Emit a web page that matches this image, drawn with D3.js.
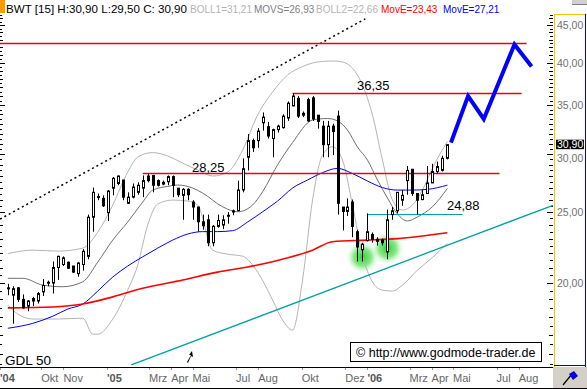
<!DOCTYPE html>
<html lang="de">
<head>
<meta charset="UTF-8" />
<title>BWT</title>
<script src="https://cdn.jsdelivr.net/npm/d3@7"></script>
<style>
  body { margin: 0; background: #fff; }
  svg { display: block; font-family: "Liberation Sans", Arial, sans-serif; }
</style>
</head>
<body>
<svg width="587" height="389"></svg>
<script>
// weekly candles
var weeks = ["2004-08-13","2004-08-20","2004-08-27","2004-09-03","2004-09-10","2004-09-17","2004-09-24","2004-10-01","2004-10-08","2004-10-15",
  "2004-10-22","2004-10-29","2004-11-05","2004-11-12","2004-11-19","2004-11-26","2004-12-03","2004-12-10","2004-12-17","2004-12-24",
  "2004-12-31","2005-01-07","2005-01-14","2005-01-21","2005-01-28","2005-02-04","2005-02-11","2005-02-18","2005-02-25","2005-03-04",
  "2005-03-11","2005-03-18","2005-03-25","2005-04-01","2005-04-08","2005-04-15","2005-04-22","2005-04-29","2005-05-06","2005-05-13",
  "2005-05-20","2005-05-27","2005-06-03","2005-06-10","2005-06-17","2005-06-24","2005-07-01","2005-07-08","2005-07-15","2005-07-22",
  "2005-07-29","2005-08-05","2005-08-12","2005-08-19","2005-08-26","2005-09-02","2005-09-09","2005-09-16","2005-09-23","2005-09-30",
  "2005-10-07","2005-10-14","2005-10-21","2005-10-28","2005-11-04","2005-11-11","2005-11-18","2005-11-25","2005-12-02","2005-12-09",
  "2005-12-16","2005-12-23","2005-12-30","2006-01-06","2006-01-13","2006-01-20","2006-01-27","2006-02-03","2006-02-10","2006-02-17",
  "2006-02-24","2006-03-03","2006-03-10","2006-03-17","2006-03-24","2006-03-31","2006-04-07","2006-04-14","2006-04-21"];
var opens = [19.7,19.25,19.7,19.0,18.6,18.9,18.9,19.45,20.0,20.0, 21.0,21.2,21.35,21.1,20.6,21.2,21.75,24.6,26.2,26.1,
  24.95,26.95,27.35,27.65,25.7,26.2,26.6,26.95,28.0,28.05, 27.6,27.3,27.5,27.95,26.95,26.35,26.85,25.8,25.4,24.25,
  24.4,22.7,23.9,24.0,24.7,25.0,25.1,26.8,29.7,31.3, 31.3,33.1,32.7,31.5,32.4,32.6,33.6,34.9,35.75,33.9,
  35.6,35.8,33.9,32.75,30.9,32.75,33.8,25.4,25.05,25.8, 23.5,22.2,22.85,23.3,22.8,22.9,22.05,24.8,25.1,25.95,
  27.6,28.6,26.5,26.0,26.5,27.4,28.4,28.5,29.6];
var highs = [19.95,19.8,19.75,19.3,18.95,19.15,19.45,20.25,20.15,21.4, 21.8,21.75,21.4,21.1,21.35,22.25,24.8,27.0,26.5,26.35,
  26.8,27.9,28.05,27.65,26.6,27.35,27.45,28.05,28.2,28.1, 27.7,27.6,28.05,28.05,26.95,26.95,26.95,25.95,25.4,24.8,
  24.8,24.0,24.8,24.75,25.0,25.2,27.6,29.6,31.95,31.5, 32.55,34.2,33.2,32.5,32.9,34.0,35.4,36.35,36.0,34.3,
  35.8,36.0,33.9,33.3,33.3,33.0,34.4,25.4,26.1,26.0, 23.65,22.7,24.9,23.45,23.1,23.0,25.2,25.4,26.6,26.8,
  28.9,28.6,26.5,26.8,28.9,29.1,29.3,29.85,30.9];
var lows = [19.25,17.6,18.85,18.45,18.3,18.6,18.75,19.2,19.8,19.35, 20.2,21.1,20.9,20.65,20.4,20.8,21.55,23.5,25.95,25.4,
  24.3,26.35,27.2,25.95,25.65,26.1,26.4,26.2,27.45,26.6, 27.1,27.2,27.2,26.2,26.2,24.4,25.95,24.4,23.5,23.65,
  22.45,22.45,23.8,23.7,24.1,24.75,25.1,26.6,28.5,30.2, 30.6,32.3,31.5,29.7,32.1,32.5,33.3,34.9,33.6,33.7,
  33.2,33.3,32.5,29.7,29.7,29.9,24.8,23.6,24.7,23.1, 21.4,21.4,22.8,22.7,22.5,22.5,21.55,24.4,24.9,25.5,
  26.4,26.3,24.8,25.95,26.5,27.4,28.2,28.4,29.5];
var closes = [19.65,19.65,19.0,18.5,18.9,19.05,19.35,19.85,20.05,21.0, 21.75,21.65,20.95,20.7,21.3,22.1,24.6,26.6,26.25,25.5,
  26.7,27.8,28.0,26.2,26.2,27.05,27.2,27.6,27.6,27.2, 27.2,27.45,27.95,27.2,26.4,26.85,26.4,25.4,24.25,23.95,
  22.7,23.9,24.35,24.4,24.75,25.1,26.8,28.65,31.3,30.6, 32.25,33.7,31.75,32.4,32.75,33.8,35.2,36.0,33.8,34.1,
  33.3,33.5,33.25,30.9,32.75,32.2,25.7,25.05,25.4,23.9, 22.4,22.6,23.5,22.95,22.95,22.7,24.4,25.1,26.6,26.35,
  28.5,26.5,25.95,26.4,27.4,28.4,28.85,29.6,30.9];

// indicator lines [date, value]
var bollUpper = [["2004-08-13",21.94],["2004-09-17",22.18],["2004-10-22",22.11],["2004-11-26",22.32],["2004-12-17",23.47],
  ["2005-01-07",25.56],["2005-01-28",28.35],["2005-02-11",29.72],["2005-03-04",30.14],["2005-03-25",29.82],["2005-04-15",29.16],
  ["2005-05-06",28.53],["2005-05-27",28.0],["2005-06-17",28.35],["2005-07-08",30.38],["2005-07-29",33.92],["2005-08-19",36.46],
  ["2005-09-09",38.46],["2005-09-30",39.5],["2005-10-21",40.07],["2005-11-11",40.2],["2005-11-25",40.07],["2005-12-09",39.3],
  ["2005-12-23",37.27],["2006-01-06",33.92],["2006-01-20",29.44],["2006-02-03",25.96],["2006-02-17",25.16],["2006-03-03",25.56],
  ["2006-03-17",26.79],["2006-03-31",28.7],["2006-04-21",31.21]];
var bollLower = [["2004-08-13",18.66],["2004-08-27",18.14],["2004-09-17",17.86],["2004-10-22",17.86],["2004-11-26",17.91],
  ["2004-12-10",17.03],["2004-12-17",17.03],["2005-01-07",17.86],["2005-01-28",19.56],["2005-02-11",21.16],["2005-02-25",24.0],
  ["2005-03-11",25.64],["2005-04-01",25.96],["2005-04-22",25.88],["2005-05-06",25.56],["2005-05-27",22.18],["2005-06-17",21.9],
  ["2005-07-08",21.76],["2005-07-29",20.7],["2005-08-19",18.96],["2005-09-02",17.8],["2005-09-16",17.25],["2005-09-30",20.19],
  ["2005-10-14",25.96],["2005-10-28",29.91],["2005-11-11",30.7],["2005-11-25",29.44],["2005-12-09",25.56],["2005-12-23",21.84],
  ["2006-01-06",20.06],["2006-01-20",19.56],["2006-02-03",19.5],["2006-02-17",19.87],["2006-03-10",20.83],["2006-03-31",21.67],
  ["2006-04-21",22.66]];
var movs = [["2004-08-13",20.3],["2004-09-03",20.3],["2004-10-01",19.87],["2004-10-29",19.77],["2004-11-26",20.08],
  ["2004-12-17",21.36],["2005-01-07",22.89],["2005-01-28",24.23],["2005-02-18",25.8],["2005-03-04",26.79],["2005-03-25",27.1],
  ["2005-04-08",27.22],["2005-04-29",26.96],["2005-05-13",26.54],["2005-06-10",25.42],["2005-07-01",25.02],["2005-07-22",25.56],
  ["2005-08-05",26.65],["2005-08-26",29.0],["2005-09-16",31.1],["2005-10-14",33.39],["2005-11-04",33.55],["2005-11-18",33.3],
  ["2005-12-02",32.35],["2005-12-16",30.67],["2005-12-30",29.44],["2006-01-13",27.65],["2006-01-27",26.13],["2006-02-10",24.85],
  ["2006-02-24",24.31],["2006-03-10",24.62],["2006-03-31",25.42],["2006-04-21",26.93]];
var emaFast = [["2004-08-13",17.35],["2004-09-17",17.62],["2004-10-15",18.02],["2004-11-05",18.43],["2004-11-26",18.72],
  ["2004-12-17",19.5],["2005-01-07",20.38],["2005-01-28",21.1],["2005-02-18",21.72],["2005-03-11",22.32],["2005-04-01",22.89],
  ["2005-04-22",23.33],["2005-05-13",23.51],["2005-06-03",23.51],["2005-06-24",23.58],["2005-07-15",24.23],["2005-08-05",25.02],
  ["2005-08-26",25.88],["2005-09-16",26.96],["2005-10-07",27.65],["2005-10-28",28.3],["2005-11-18",28.68],["2005-12-09",28.22],
  ["2005-12-30",27.56],["2006-01-20",27.0],["2006-02-10",26.79],["2006-03-03",26.79],["2006-03-24",26.85],["2006-04-21",27.21]];
var emaSlow = [["2004-08-13",18.5],["2004-10-15",18.55],["2004-11-26",18.72],["2005-01-07",19.15],["2005-02-18",19.67],
  ["2005-04-15",20.19],["2005-06-03",20.7],["2005-07-15",21.03],["2005-08-26",21.47],["2005-10-14",22.18],["2005-11-11",22.77],
  ["2005-12-30",22.89],["2006-02-10",23.0],["2006-04-21",23.43]];

// drawn annotations
var levels = [{ from: "2004-08-02", to: "2006-08-10", value: 42.6 },
  { from: "2005-09-16", to: "2006-08-03", value: 36.35 },
  { from: "2005-02-18", to: "2006-07-03", value: 28.25 }];
var support = { from: "2005-12-30", to: "2006-05-12", value: 24.88 };
var trendUp = [["2004-08-02", 24.45], ["2005-12-27", 45.9]];
var trendLow = [["2005-02-02", 15.46], ["2006-09-16", 25.54]];
var forecast = [["2006-04-26", 31.1], ["2006-05-20", 36.0], ["2006-06-11", 33.5], ["2006-07-24", 42.35], ["2006-08-17", 39.5]];
var bottoms = [["2005-12-23", 21.7], ["2006-01-27", 22.3]];

var monthTicks = [["2004-08-02","'04"],["2004-10-01","Okt"],["2004-11-01","Nov"],["2005-01-01","'05"],["2005-03-01","Mrz"],
  ["2005-04-01","Apr"],["2005-05-01","Mai"],["2005-07-01","Jul"],["2005-08-01","Aug"],["2005-10-01","Okt"],["2005-12-01","Dez"],
  ["2006-01-01","'06"],["2006-03-01","Mrz"],["2006-04-01","Apr"],["2006-05-01","Mai"],["2006-07-01","Jul"],["2006-08-01","Aug"]];
var priceTicks = [20, 25, 30, 35, 40, 45];

var parse = d3.utcParse("%Y-%m-%d");
var svg = d3.select("svg");
var W = 553, plotTop = 14, plotBottom = 367;

var x = d3.scaleUtc().domain([parse("2004-08-02"), parse("2006-09-16")]).range([0, W]);
var y = d3.scaleLog().domain([15.36, 46.6]).range([plotBottom, plotTop]);
var fmt = function (v) { return v.toFixed(2).replace(".", ","); };

var plot = svg.append("g");

// thin price ticks at both edges
d3.range(15.5, 46.6, 0.5).forEach(function (v) {
  var len = v % 5 === 0 ? 6 : (v % 1 === 0 ? 4 : 3);
  var yy = Math.round(y(v)) + 0.5;
  plot.append("line").attr("x1", W - len).attr("x2", W).attr("y1", yy).attr("y2", yy).attr("stroke", "#000");
  plot.append("line").attr("x1", 0).attr("x2", len - 1).attr("y1", yy).attr("y2", yy).attr("stroke", "#000");
});

var line = d3.line()
  .x(function (d) { return x(parse(d[0])); })
  .y(function (d) { return y(d[1]); });
var smooth = d3.line()
  .x(function (d) { return x(parse(d[0])); })
  .y(function (d) { return y(d[1]); })
  .curve(d3.curveMonotoneX);

// glows under the two lows
var grad = svg.append("defs").append("radialGradient").attr("id", "glow");
grad.append("stop").attr("offset", "0%").attr("stop-color", "#2bd42b").attr("stop-opacity", 1);
grad.append("stop").attr("offset", "55%").attr("stop-color", "#5fe05f").attr("stop-opacity", 0.75);
grad.append("stop").attr("offset", "100%").attr("stop-color", "#c8f5c8").attr("stop-opacity", 0);
plot.selectAll(".glow").data(bottoms).enter().append("circle")
  .attr("cx", function (d) { return x(parse(d[0])); })
  .attr("cy", function (d) { return y(d[1]); })
  .attr("r", 16).attr("fill", "url(#glow)");

plot.append("path").datum(bollUpper).attr("d", smooth).attr("fill", "none").attr("stroke", "#b4b4b4");
plot.append("path").datum(bollLower).attr("d", smooth).attr("fill", "none").attr("stroke", "#b4b4b4");
plot.append("path").datum(movs).attr("d", smooth).attr("fill", "none").attr("stroke", "#707070");
plot.append("path").datum(emaFast).attr("d", smooth).attr("fill", "none").attr("stroke", "#0000ff");
plot.append("path").datum(emaSlow).attr("d", smooth).attr("fill", "none").attr("stroke", "#ff0000").attr("stroke-width", 1.6);

// trend lines
plot.append("path").datum(trendUp).attr("d", line).attr("fill", "none").attr("stroke", "#000")
  .attr("stroke-width", 1.5).attr("stroke-dasharray", "2,3");
plot.append("path").datum(trendLow).attr("d", line).attr("fill", "none").attr("stroke", "#00a0a0").attr("stroke-width", 1.3);

// horizontal levels
levels.forEach(function (l) {
  var yy = Math.round(y(l.value)) + 0.5;
  plot.append("line").attr("x1", x(parse(l.from))).attr("x2", x(parse(l.to)))
    .attr("y1", yy).attr("y2", yy).attr("stroke", "#f00000").attr("stroke-width", 1.4);
});
var sy = Math.round(y(support.value)) + 0.5;
plot.append("line").attr("x1", x(parse(support.from))).attr("x2", x(parse(support.to)))
  .attr("y1", sy).attr("y2", sy).attr("stroke", "#00a0a0").attr("stroke-width", 1.2);

// candles
var c = plot.append("g");
weeks.forEach(function (w, i) {
  var cx = Math.round(x(parse(w)));
  var o = opens[i], cl = closes[i];
  c.append("line").attr("x1", cx + 0.5).attr("x2", cx + 0.5)
    .attr("y1", y(highs[i])).attr("y2", y(lows[i])).attr("stroke", "#000");
  var y0 = y(Math.max(o, cl)), y1 = y(Math.min(o, cl));
  c.append("rect").attr("x", cx - 0.5).attr("y", y0).attr("width", 2).attr("height", Math.max(1, y1 - y0))
    .attr("fill", cl >= o ? "#fff" : "#000").attr("stroke", "#000");
});

// forecast path
plot.append("path").datum(forecast).attr("d", line).attr("fill", "none").attr("stroke", "#0000ff")
  .attr("stroke-width", 4).attr("stroke-linejoin", "miter");

// level labels
plot.append("text").attr("x", 357).attr("y", 90).attr("font-size", 13).text("36,35");
plot.append("text").attr("x", 192).attr("y", 172).attr("font-size", 13).text("28,25");
plot.append("text").attr("x", 447).attr("y", 210).attr("font-size", 13).text("24,88");
plot.append("text").attr("x", 5).attr("y", 365).attr("font-size", 13.5).text("GDL 50");

// small pointer arrow
plot.append("path").attr("d", "M187,362 L191,355 L189,355 L192,351 L193,357 L191,356 L188,363 Z").attr("fill", "#000");

// copyright box
svg.append("rect").attr("x", 350.5).attr("y", 342.5).attr("width", 191).attr("height", 19)
  .attr("fill", "#fff").attr("stroke", "#000");
svg.append("text").attr("x", 356).attr("y", 356.5).attr("font-size", 12.5).text("\u00a9 http://www.godmode-trader.de");

// header legend
svg.append("rect").attr("x", 0).attr("y", 0).attr("width", 5).attr("height", 13).attr("fill", "#ff9900");
svg.append("text").attr("x", 6).attr("y", 13).attr("font-size", 11).attr("textLength", 181)
  .attr("lengthAdjust", "spacingAndGlyphs").text("BWT [15] H:30,90 L:29,50 C: 30,90");
var legend = [[190, "#b4b4b4", "BOLL1=31,21"], [254, "#808080", "MOVS=26,93"], [316, "#b4b4b4", "BOLL2=22,66"],
  [381, "#ff0000", "MovE=23,43"], [443, "#0000ff", "MovE=27,21"]];
legend.forEach(function (d) {
  svg.append("text").attr("x", d[0]).attr("y", 13).attr("font-size", 10).attr("fill", d[1]).text(d[2]);
});
svg.append("rect").attr("x", 572).attr("y", 0).attr("width", 15).attr("height", 4).attr("fill", "#d0d0d0");
svg.append("line").attr("x1", 572).attr("x2", 587).attr("y1", 4.5).attr("y2", 4.5).attr("stroke", "#808080");

// right price axis
var ax = svg.append("g");
ax.append("line").attr("x1", 554.5).attr("x2", 554.5).attr("y1", plotTop).attr("y2", plotBottom).attr("stroke", "#f5c400");
ax.append("line").attr("x1", 554).attr("x2", 586).attr("y1", plotTop + 0.5).attr("y2", plotTop + 0.5).attr("stroke", "#f5c400");
ax.append("line").attr("x1", 585.5).attr("x2", 585.5).attr("y1", plotTop).attr("y2", plotBottom).attr("stroke", "#0000cc");
ax.append("line").attr("x1", 554).attr("x2", 586).attr("y1", plotBottom - 1.5).attr("y2", plotBottom - 1.5).attr("stroke", "#0000cc");
var last = closes[closes.length - 1];
ax.selectAll(".pl").data(priceTicks).enter().append("text")
  .attr("x", 557).attr("y", function (d) { return y(d) + (d === 30 ? 7.5 : 4); })
  .attr("font-size", 10.5).attr("fill", "#707070").text(fmt);
ax.append("rect").attr("x", 556).attr("y", y(last) - 5).attr("width", 28).attr("height", 9.5).attr("fill", "#000");
ax.append("text").attr("x", 557).attr("y", y(last) + 3.5).attr("font-size", 10.5).attr("fill", "#fff").text(fmt(last));

// time axis
var xa = svg.append("g");
xa.append("line").attr("x1", 0).attr("x2", W).attr("y1", plotBottom + 0.5).attr("y2", plotBottom + 0.5).attr("stroke", "#000");
xa.append("line").attr("x1", 0).attr("x2", 587).attr("y1", 388.5).attr("y2", 388.5).attr("stroke", "#000");
monthTicks.forEach(function (d) {
  var mx = Math.max(0, x(parse(d[0])) - 1.5);
  var yr = d[1].charAt(0) === "'";
  xa.append("line").attr("x1", Math.round(mx) + 0.5).attr("x2", Math.round(mx) + 0.5)
    .attr("y1", plotBottom + 1).attr("y2", plotBottom + 3).attr("stroke", "#999");
  xa.append("text").attr("x", mx).attr("y", 382).attr("font-size", 11)
    .attr("font-weight", yr ? "bold" : "normal").attr("fill", yr ? "#555" : "#666").text(d[1]);
});
xa.append("rect").attr("x", 553).attr("y", 367).attr("width", 34).attr("height", 21).attr("fill", "#d4d0c8");
xa.append("path").attr("d", "M563,385 L572,374").attr("stroke", "#000").attr("stroke-width", 1.2);
xa.append("path").attr("d", "M569,374 L574,371 L578,376 L573,380 Z").attr("fill", "#0000e0");
</script>
</body>
</html>
